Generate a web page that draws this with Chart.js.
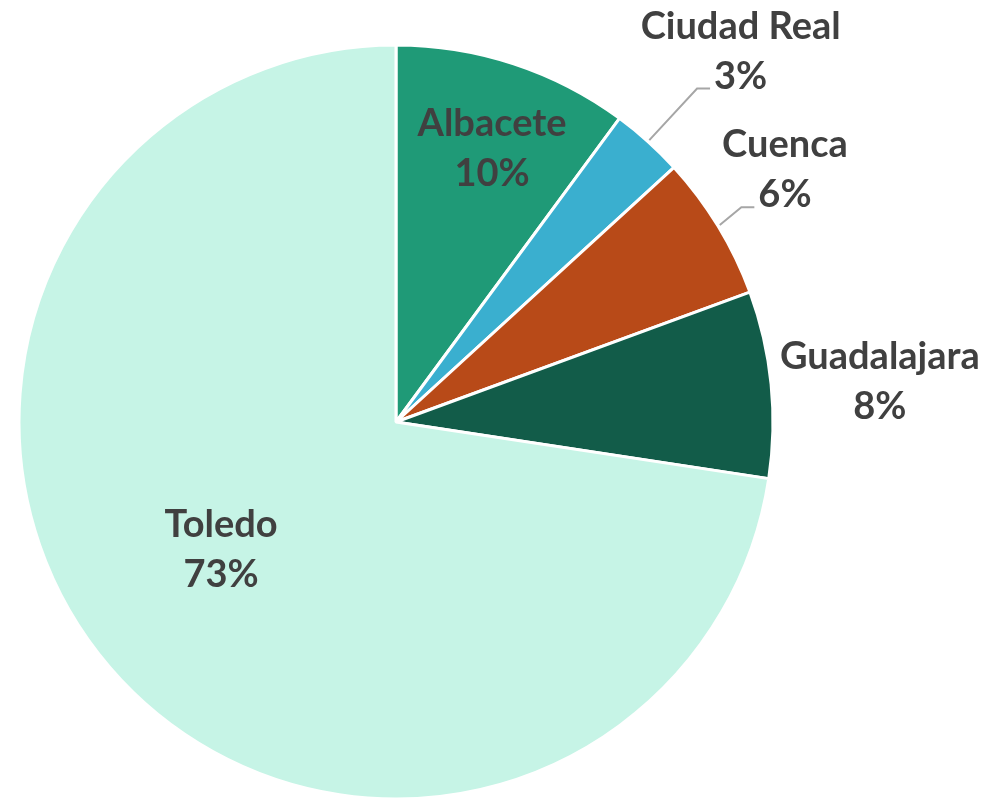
<!DOCTYPE html>
<html>
<head>
<meta charset="utf-8">
<script src="https://cdn.jsdelivr.net/npm/chart.js@4.4.1/dist/chart.umd.min.js"></script>
<style>
  html, body { margin: 0; padding: 0; background: #ffffff; }
  #wrap { width: 990px; height: 800px; position: relative; }
</style>
</head>
<body>
<div id="wrap"><canvas id="c" width="990" height="800"></canvas></div>
<script>
const categories = ['Albacete', 'Ciudad Real', 'Cuenca', 'Guadalajara', 'Toledo'];
const values = [10.1, 3.1, 6.2, 8.0, 72.6];
const percentLabels = ['10%', '3%', '6%', '8%', '73%'];
const colors = ['#1f9a77', '#3aafcf', '#b84a18', '#125c49', '#c6f4e6'];

// label placement relative to each slice: radius factor and angle offset (deg)
const labelRadius = [0.768, 1.342, 1.229, 1.288, 0.575];
const labelAngleOffset = [1.2, 1.0, -1.6, 1.0, 4.5];
const hasLeader = [false, true, true, false, false];

const FONT = 'bold 38px Lato, "Open Sans", sans-serif';
const LINE_GAP = 50;

const labelPlugin = {
  id: 'sliceLabels',
  afterDatasetsDraw(chart) {
    const ctx = chart.ctx;
    const meta = chart.getDatasetMeta(0);
    ctx.save();
    ctx.font = FONT;
    ctx.fillStyle = '#404040';
    ctx.textAlign = 'center';
    ctx.textBaseline = 'middle';
    meta.data.forEach((arc, i) => {
      const p = arc.getProps(['x', 'y', 'startAngle', 'endAngle', 'outerRadius'], true);
      const mid = (p.startAngle + p.endAngle) / 2;
      const a = mid + labelAngleOffset[i] * Math.PI / 180;
      const r = p.outerRadius * labelRadius[i];
      const cx = p.x + Math.cos(a) * r;
      const cy = p.y + Math.sin(a) * r;
      const y1 = cy - LINE_GAP / 2;
      const y2 = cy + LINE_GAP / 2;
      ctx.fillText(categories[i], cx, y1);
      ctx.fillText(percentLabels[i], cx, y2);
      if (hasLeader[i]) {
        const w2 = ctx.measureText(percentLabels[i]).width;
        const sx = p.x + Math.cos(mid) * (p.outerRadius + 2);
        const sy = p.y + Math.sin(mid) * (p.outerRadius + 2);
        const ex = cx - w2 / 2 - 4;
        const ey = y2 + 12;
        const bx = ex - 13;
        ctx.beginPath();
        ctx.strokeStyle = '#a6a6a6';
        ctx.lineWidth = 2;
        ctx.moveTo(sx, sy);
        ctx.lineTo(bx, ey);
        ctx.lineTo(ex, ey);
        ctx.stroke();
      }
    });
    ctx.restore();
  }
};

new Chart(document.getElementById('c'), {
  type: 'pie',
  data: {
    labels: categories,
    datasets: [{
      data: values,
      backgroundColor: colors,
      borderColor: '#ffffff',
      borderWidth: 3
    }]
  },
  options: {
    responsive: false,
    animation: false,
    radius: 377,
    layout: { padding: { left: 19, top: 45, right: 217, bottom: 1 } },
    plugins: {
      legend: { display: false },
      tooltip: { enabled: false }
    }
  },
  plugins: [labelPlugin]
});
</script>
</body>
</html>
